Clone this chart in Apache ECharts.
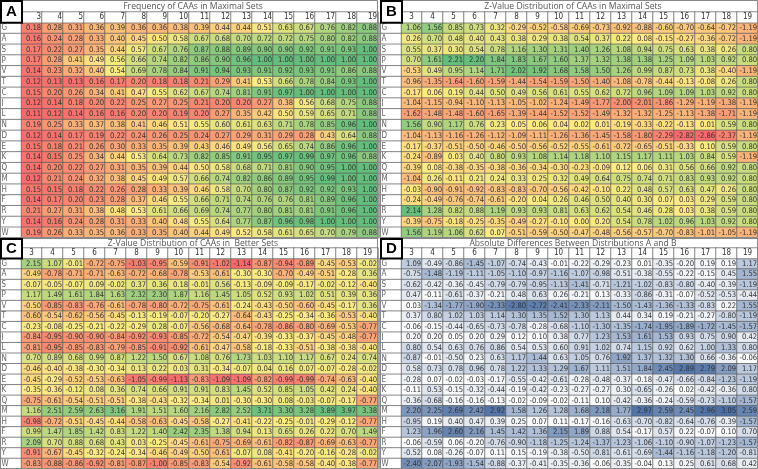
<!DOCTYPE html>
<html><head><meta charset="utf-8">
<script src="https://cdn.jsdelivr.net/npm/echarts@6/dist/echarts.min.js"></script>
<style>html,body{margin:0;padding:0;background:#fff}#c{width:758px;height:469px}</style>
</head><body><div id="c"></div><script>
const rowLabels = ['G','A','S','P','V','T','C','I','L','N','D','E','K','Q','M','H','F','R','Y','W'];
const colLabels = ['3','4','5','6','7','8','9','10','11','12','13','14','15','16','17','18','19'];
const titleA = 'Frequency of CAAs in Maximal Sets';
const titleB = 'Z-Value Distribution of CAAs in Maximal Sets';
const titleC = 'Z-Value Distribution of CAAs in  Better Sets';
const titleD = 'Absolute Differences Between Distributions A and B';

const freqMaximal = [
[0.18,0.28,0.31,0.36,0.39,0.36,0.36,0.38,0.39,0.44,0.44,0.51,0.63,0.67,0.76,0.82,0.88],
[0.16,0.24,0.28,0.33,0.40,0.45,0.50,0.58,0.67,0.68,0.70,0.72,0.72,0.75,0.80,0.82,0.88],
[0.17,0.22,0.27,0.35,0.44,0.57,0.67,0.76,0.87,0.88,0.89,0.90,0.90,0.92,0.91,0.93,1.00],
[0.17,0.28,0.41,0.49,0.56,0.66,0.74,0.82,0.86,0.90,0.96,1.00,1.00,1.00,1.00,1.00,1.00],
[0.14,0.23,0.32,0.40,0.54,0.69,0.78,0.84,0.91,0.94,0.93,0.91,0.92,0.93,0.91,0.86,0.88],
[0.12,0.13,0.13,0.16,0.17,0.20,0.18,0.18,0.21,0.29,0.41,0.53,0.66,0.78,0.84,0.93,1.00],
[0.15,0.20,0.26,0.34,0.41,0.47,0.55,0.62,0.67,0.74,0.81,0.91,0.97,1.00,1.00,1.00,1.00],
[0.12,0.14,0.18,0.20,0.22,0.25,0.27,0.25,0.21,0.20,0.20,0.27,0.38,0.56,0.68,0.75,0.88],
[0.11,0.12,0.14,0.16,0.16,0.20,0.20,0.19,0.20,0.27,0.35,0.42,0.50,0.59,0.65,0.71,0.88],
[0.19,0.25,0.33,0.37,0.38,0.41,0.46,0.51,0.55,0.60,0.61,0.63,0.71,0.78,0.85,0.96,1.00],
[0.12,0.14,0.17,0.19,0.22,0.24,0.26,0.25,0.24,0.27,0.29,0.31,0.29,0.28,0.43,0.64,0.88],
[0.15,0.18,0.21,0.26,0.30,0.33,0.35,0.39,0.43,0.46,0.49,0.56,0.65,0.74,0.86,0.96,1.00],
[0.14,0.15,0.25,0.34,0.44,0.53,0.64,0.73,0.82,0.85,0.91,0.95,0.97,0.99,0.97,0.96,0.88],
[0.14,0.20,0.22,0.27,0.31,0.35,0.39,0.44,0.50,0.58,0.68,0.71,0.81,0.90,0.95,1.00,1.00],
[0.12,0.21,0.24,0.32,0.38,0.45,0.49,0.57,0.66,0.74,0.82,0.86,0.89,0.95,0.99,1.00,1.00],
[0.15,0.15,0.18,0.22,0.26,0.28,0.33,0.39,0.46,0.58,0.70,0.80,0.87,0.92,0.92,0.93,1.00],
[0.14,0.17,0.20,0.23,0.28,0.37,0.46,0.55,0.66,0.71,0.74,0.76,0.76,0.81,0.89,0.96,1.00],
[0.21,0.27,0.31,0.38,0.48,0.53,0.61,0.66,0.69,0.74,0.77,0.80,0.81,0.81,0.91,0.96,1.00],
[0.14,0.16,0.24,0.28,0.31,0.33,0.40,0.48,0.55,0.64,0.77,0.87,0.96,0.98,1.00,1.00,1.00],
[0.19,0.26,0.33,0.35,0.36,0.33,0.35,0.40,0.44,0.49,0.52,0.58,0.61,0.65,0.70,0.79,0.88]
];

const zMaximal = [
[1.06,1.56,0.85,0.73,0.32,-0.29,-0.52,-0.58,-0.69,-0.73,-0.92,-0.88,-0.60,-0.70,-0.64,-0.72,-1.19],
[0.26,0.70,0.48,0.40,0.43,0.38,0.29,0.38,0.54,0.37,0.22,0.08,-0.15,-0.27,-0.36,-0.72,-1.19],
[0.55,0.37,0.30,0.54,0.78,1.16,1.30,1.31,1.40,1.26,1.08,0.94,0.75,0.63,0.38,0.26,0.80],
[0.70,1.61,2.21,2.20,1.84,1.83,1.67,1.60,1.37,1.32,1.38,1.38,1.25,1.09,1.03,0.92,0.80],
[-0.53,0.49,0.95,1.14,1.71,2.02,1.92,1.68,1.58,1.50,1.26,0.99,0.87,0.73,0.38,-0.40,-1.19],
[-0.96,-1.35,-1.64,-1.60,-1.59,-1.44,-1.54,-1.59,-1.50,-1.40,-1.08,-0.78,-0.44,-0.13,-0.08,0.26,0.80],
[-0.17,0.06,0.19,0.44,0.50,0.49,0.56,0.61,0.55,0.62,0.72,0.96,1.09,1.09,1.03,0.92,0.80],
[-1.04,-1.15,-0.94,-1.10,-1.13,-1.05,-1.02,-1.24,-1.49,-1.77,-2.00,-2.01,-1.86,-1.29,-1.19,-1.38,-1.19],
[-1.62,-1.48,-1.48,-1.60,-1.65,-1.39,-1.44,-1.52,-1.52,-1.49,-1.32,-1.32,-1.25,-1.13,-1.38,-1.71,-1.19],
[1.56,0.90,1.17,0.76,0.23,0.05,0.06,0.04,0.02,0.01,-0.19,-0.33,-0.22,-0.13,0.01,0.59,0.80],
[-1.04,-1.13,-1.16,-1.26,-1.12,-1.09,-1.11,-1.26,-1.36,-1.45,-1.58,-1.80,-2.29,-2.82,-2.86,-2.37,-1.19],
[-0.17,-0.37,-0.51,-0.50,-0.46,-0.50,-0.56,-0.52,-0.55,-0.61,-0.72,-0.65,-0.51,-0.33,0.10,0.59,0.80],
[-0.24,-0.89,0.03,0.40,0.80,0.93,1.08,1.14,1.18,1.10,1.15,1.17,1.11,1.03,0.84,0.59,-1.19],
[-0.39,0.08,-0.38,-0.35,-0.38,-0.36,-0.34,-0.30,-0.23,-0.09,0.12,0.06,0.31,0.56,0.66,0.92,0.80],
[-1.04,0.26,-0.11,0.21,0.24,0.33,0.25,0.32,0.49,0.64,0.75,0.74,0.71,0.83,0.93,0.92,0.80],
[-0.03,-0.90,-0.91,-0.92,-0.83,-0.83,-0.70,-0.56,-0.42,-0.10,0.22,0.48,0.57,0.63,0.47,0.26,0.80],
[-0.24,-0.49,-0.76,-0.74,-0.61,-0.20,0.04,0.26,0.46,0.50,0.40,0.30,0.07,0.03,0.29,0.59,0.80],
[2.14,1.28,0.82,0.88,1.19,0.93,0.93,0.81,0.63,0.62,0.54,0.46,0.28,0.03,0.38,0.59,0.80],
[-0.39,-0.75,-0.18,-0.25,-0.35,-0.49,-0.27,-0.10,0.00,0.20,0.54,0.78,1.02,0.96,1.03,0.92,0.80],
[1.56,1.19,1.06,0.62,0.07,-0.51,-0.59,-0.50,-0.47,-0.48,-0.56,-0.57,-0.70,-0.83,-1.01,-1.05,-1.19]
];

const zBetter = [
[2.15,1.07,-0.01,-0.72,-0.75,-1.03,-0.95,-0.59,-0.91,-1.02,-1.14,-0.87,-0.94,-0.89,-0.45,-0.53,-0.02],
[-0.49,-0.78,-0.71,-0.71,-0.63,-0.72,-0.68,-0.78,-0.53,-0.61,-0.30,-0.30,-0.70,-0.49,-0.51,-0.28,0.36],
[-0.07,-0.05,-0.07,0.09,-0.02,0.37,0.36,0.18,-0.01,0.56,-0.13,-0.09,-0.09,-0.17,-0.02,-0.12,-0.40],
[1.17,1.49,1.61,1.84,1.63,2.32,2.30,1.87,1.16,1.45,1.05,0.52,0.93,1.02,0.51,0.39,0.36],
[-0.50,-0.85,-0.83,-0.76,-0.61,-0.78,-0.80,-0.72,-0.75,-0.61,-0.24,-0.43,-0.50,-0.60,-0.45,-0.17,0.36],
[-0.60,-0.54,-0.62,-0.56,-0.45,-0.13,-0.19,-0.07,-0.20,-0.27,-0.64,-0.43,-0.25,-0.34,-0.36,-0.53,-0.40],
[-0.23,-0.08,-0.25,-0.21,-0.22,-0.29,0.28,-0.07,-0.56,-0.68,-0.64,-0.78,-0.86,-0.80,-0.69,-0.53,-0.77],
[-0.84,-0.95,-0.90,-0.90,-0.84,-0.92,-0.93,-0.85,-0.72,-0.54,-0.47,-0.39,-0.33,-0.37,-0.45,-0.48,-0.77],
[-0.81,-0.95,-0.85,-0.83,-0.79,-0.85,-0.91,-0.92,-0.61,-0.47,-0.58,-0.18,-0.33,-0.51,-0.38,-0.38,-0.40],
[0.70,0.89,0.68,0.99,0.87,1.22,1.50,0.67,1.08,0.76,1.73,1.03,1.10,1.17,0.67,0.24,0.74],
[-0.46,-0.40,-0.38,-0.30,-0.34,0.13,0.22,0.03,0.31,-0.34,-0.07,0.04,0.16,0.07,-0.07,-0.28,-0.02],
[-0.45,-0.29,-0.52,-0.53,-0.63,-1.05,-0.99,-1.13,-0.83,-1.09,-1.09,-0.82,-0.99,-0.99,-0.74,-0.63,-0.40],
[-0.35,-0.36,-0.12,0.08,0.36,0.74,0.66,0.91,0.91,0.83,1.45,0.52,0.85,1.05,0.42,0.24,-0.40],
[-0.75,-0.61,-0.54,-0.51,-0.51,-0.38,-0.43,-0.32,-0.34,0.01,-0.30,-0.30,0.08,-0.03,-0.07,-0.17,-0.77],
[1.16,2.51,2.59,2.63,3.16,1.91,1.51,1.60,2.16,2.82,2.52,3.71,3.30,3.28,3.89,3.97,3.38],
[-0.98,-0.72,-0.51,-0.45,-0.44,-0.58,-0.63,-0.45,-0.58,-0.27,-0.41,-0.22,-0.25,-0.01,-0.29,-0.12,-0.77],
[0.99,1.47,1.85,1.42,0.83,1.22,1.40,2.42,2.35,1.38,0.94,0.13,0.65,0.26,0.22,0.70,1.49],
[2.09,0.70,0.88,0.68,0.43,0.03,-0.25,-0.45,-0.61,-0.75,-0.69,-0.61,-0.82,-0.87,-0.69,-0.63,-0.77],
[-0.91,-0.67,-0.45,-0.32,-0.24,-0.34,-0.46,-0.49,-0.50,-0.61,-0.07,0.08,-0.41,-0.20,-0.16,-0.28,-0.02],
[-0.83,-0.88,-0.86,-0.92,-0.81,-0.87,-1.00,-0.85,-0.83,-0.54,-0.92,-0.61,-0.58,-0.58,-0.40,-0.38,-0.77]
];

const absDiff = [
[1.09,-0.49,-0.86,-1.45,-1.07,-0.74,-0.43,-0.01,-0.22,-0.29,-0.23,0.01,-0.35,-0.20,0.19,0.19,1.17],
[-0.75,-1.48,-1.19,-1.11,-1.05,-1.10,-0.97,-1.16,-1.07,-0.98,-0.51,-0.38,-0.55,-0.22,-0.15,0.45,1.55],
[-0.62,-0.42,-0.36,-0.45,-0.79,-0.79,-0.95,-1.13,-1.41,-0.71,-1.21,-1.02,-0.83,-0.80,-0.40,-0.39,-1.19],
[0.47,-0.11,-0.61,-0.37,-0.21,0.48,0.63,0.26,-0.21,0.13,-0.33,-0.86,-0.31,-0.07,-0.52,-0.53,-0.44],
[0.03,-1.34,-1.77,-1.90,-2.33,-2.80,-2.72,-2.41,-2.33,-2.11,-1.50,-1.43,-1.36,-1.33,-0.83,0.22,1.55],
[0.37,0.80,1.02,1.03,1.14,1.30,1.35,1.52,1.30,1.13,0.44,0.34,0.19,-0.21,-0.27,-0.80,-1.19],
[-0.06,-0.15,-0.44,-0.65,-0.73,-0.78,-0.28,-0.68,-1.10,-1.30,-1.35,-1.74,-1.95,-1.89,-1.72,-1.45,-1.57],
[0.20,0.20,0.05,0.20,0.29,0.12,0.10,0.38,0.77,1.23,1.53,1.61,1.53,0.93,0.75,0.90,0.42],
[0.80,0.54,0.63,0.76,0.86,0.54,0.53,0.60,0.91,1.02,0.74,1.15,0.92,0.62,1.00,1.33,0.80],
[-0.87,-0.01,-0.50,0.23,0.63,1.17,1.44,0.63,1.05,0.76,1.92,1.37,1.32,1.30,0.66,-0.36,-0.06],
[0.58,0.73,0.78,0.96,0.78,1.22,1.33,1.29,1.67,1.11,1.51,1.84,2.45,2.89,2.79,2.09,1.17],
[-0.28,0.07,-0.02,-0.03,-0.17,-0.55,-0.42,-0.61,-0.28,-0.48,-0.37,-0.18,-0.47,-0.66,-0.84,-1.23,-1.19],
[-0.11,0.53,-0.15,-0.32,-0.44,-0.19,-0.42,-0.23,-0.27,-0.27,0.30,-0.65,-0.26,0.02,-0.42,-0.36,0.80],
[-0.36,-0.68,-0.16,-0.16,-0.13,-0.02,-0.09,-0.02,-0.11,0.10,-0.42,-0.36,-0.24,-0.59,-0.73,-1.10,-1.57],
[2.20,2.25,2.69,2.42,2.92,1.58,1.26,1.28,1.68,2.18,1.77,2.97,2.59,2.45,2.96,3.05,2.59],
[-0.95,0.19,0.40,0.47,0.39,0.25,0.07,0.11,-0.17,-0.16,-0.63,-0.70,-0.82,-0.64,-0.76,-0.39,-1.57],
[1.23,1.96,2.60,2.16,1.45,1.42,1.36,2.15,1.89,0.88,0.54,-0.17,0.57,0.22,-0.07,0.10,0.70],
[-0.06,-0.59,0.06,-0.20,-0.76,-0.90,-1.18,-1.25,-1.24,-1.37,-1.23,-1.06,-1.10,-0.90,-1.07,-1.23,-1.57],
[-0.52,0.08,-0.26,-0.07,0.11,0.15,-0.19,-0.38,-0.50,-0.81,-0.61,-0.69,-1.44,-1.16,-1.18,-1.20,-0.81],
[-2.40,-2.07,-1.93,-1.54,-0.88,-0.37,-0.41,-0.35,-0.36,-0.06,-0.35,-0.04,0.13,0.25,0.61,0.68,0.42]
];

const FONT = "'Liberation Sans Narrow','DejaVu Sans Condensed',sans-serif";
const panels = [
  {letter:'A', title:titleA, values:freqMaximal, x:0,   w:378, top:0,   titleH:12, bottom:238, scale:'ryg', headAlign:'right'},
  {letter:'B', title:titleB, values:zMaximal,    x:380, w:378, top:0,   titleH:12, bottom:238, scale:'ryg', headAlign:'center'},
  {letter:'C', title:titleC, values:zBetter,     x:0,   w:378, top:238, titleH:10, bottom:469, scale:'ryg', headAlign:'center'},
  {letter:'D', title:titleD, values:absDiff,     x:380, w:378, top:238, titleH:10, bottom:469, scale:'blue', headAlign:'center'}
];

function median(arr){const s=arr.slice().sort((a,b)=>a-b);const n=s.length;return n%2?s[(n-1)/2]:(s[n/2-1]+s[n/2])/2;}

const grids=[],xAxes=[],yAxes=[],series=[],titles=[],graphics=[],visualMaps=[];
const yCats=['hdr'].concat(rowLabels);
const xCats=['lbl'].concat(colLabels);
panels.forEach((p,i)=>{
  const gTop=p.top+p.titleH;
  grids.push({left:p.x,top:gTop,width:p.w,height:p.bottom-gTop});
  xAxes.push({type:'category',gridIndex:i,data:xCats,show:false});
  yAxes.push({type:'category',gridIndex:i,data:yCats,inverse:true,show:false});
  const flat=p.values.flat();
  let score;
  if(p.scale==='ryg'){
    const mn=Math.min(...flat),mx=Math.max(...flat),md=median(flat);
    score=v=>v<=md?0.5*(v-mn)/(md-mn):0.5+0.5*(v-md)/(mx-md);
  } else {
    const ab=flat.map(Math.abs);const mn=Math.min(...ab),mx=Math.max(...ab);
    score=v=>(Math.abs(v)-mn)/(mx-mn);
  }
  const data=[];
  p.values.forEach((row,r)=>row.forEach((v,c)=>data.push([c+1,r+1,v,score(v)])));
  series.push({
    type:'heatmap',xAxisIndex:i,yAxisIndex:i,data:data,
    itemStyle:{borderColor:'#5a5a5a',borderWidth:0.7},
    label:{show:true,position:'insideRight',distance:1.5,fontSize:7.6,fontFamily:FONT,color:'#333',
      formatter:q=>q.value[2].toFixed(2)},
    emphasis:{disabled:true}
  });
  visualMaps.push({type:'continuous',show:false,seriesIndex:series.length-1,dimension:3,min:0,max:1,
    inRange:{color:p.scale==='ryg'?['#F8696B','#FFEB84','#63BE7B']:['#FFFFFF','#4C6FA5']}});
  const hdr=[];
  colLabels.forEach((c,k)=>hdr.push({value:[k+1,0,0],name:c,
    label:{position:p.headAlign==='right'?'insideRight':'inside',color:'#333',fontSize:8}}));
  rowLabels.forEach((rl,k)=>hdr.push({value:[0,k+1,0],name:rl,
    label:{position:'insideLeft',distance:2,color:'#666',fontSize:8}}));
  series.push({
    type:'heatmap',xAxisIndex:i,yAxisIndex:i,data:hdr,
    itemStyle:{color:'#ffffff',borderColor:'#5a5a5a',borderWidth:0.7},
    label:{show:true,formatter:'{b}',distance:1.5,fontFamily:FONT},
    emphasis:{disabled:true}
  });
  titles.push({text:p.title,left:p.x+p.w/2+4,top:p.top+Math.max(0,(p.titleH-10)/2)+0.5,textAlign:'center',padding:0,
    textStyle:{fontSize:8.6,lineHeight:10,fontWeight:'normal',color:'#555',fontFamily:"'Open Sans',sans-serif"}});
  const rowH=(p.bottom-gTop)/21;
  graphics.push({type:'rect',shape:{x:p.x+0.5,y:p.top+0.5,width:p.w-1,height:p.bottom-p.top-1},
    style:{fill:'none',stroke:'#888',lineWidth:1},z:10});
  graphics.push({type:'rect',shape:{x:p.x+1,y:p.top+1,width:p.w/18,height:p.titleH+rowH-1},
    style:{fill:'#fff',stroke:'#000',lineWidth:2},z:11});
  graphics.push({type:'text',x:p.x+1+p.w/36,y:p.top+1+(p.titleH+rowH-1)/2,
    style:{text:p.letter,fill:'#000',font:"bold 15px 'Liberation Sans',Arial,sans-serif",align:'center',verticalAlign:'middle'},z:12});
});

const chart=echarts.init(document.getElementById('c'),null,{renderer:'canvas'});
chart.setOption({
  animation:false,backgroundColor:'#fff',
  title:titles,grid:grids,xAxis:xAxes,yAxis:yAxes,visualMap:visualMaps,series:series,graphic:graphics,
  tooltip:{show:false}
});
</script></body></html>
